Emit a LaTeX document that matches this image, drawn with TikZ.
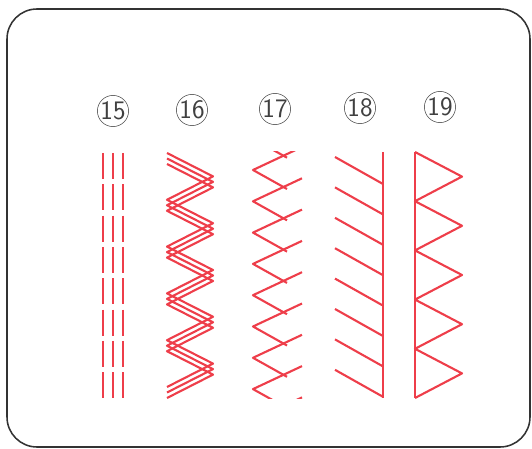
\documentclass[tikz,border=0pt]{standalone}
\usetikzlibrary{calc}
\definecolor{thread}{RGB}{238,62,74}
\tikzset{
    pattern sheet/.style = {x=0.25mm, y=-0.25mm},
    frame/.style         = {draw=black!80, line width=1.1pt, rounded corners=7.5mm},
    stitch/.style        = {draw=thread, line width=1.5pt, line join=round},
    num/.style           = {draw=black!70, circle, thin, minimum size=7.8mm,
                            inner sep=0pt, text=black!75,
                            font=\sffamily\fontsize{19}{19}\selectfont}
}
\begin{document}
\begin{tikzpicture}[pattern sheet]
\useasboundingbox (0,0) rectangle (532,449);

% Card outline
\draw[frame] (7,9) rectangle (530,447);

% Pattern numbers
\node[num] (n15) at (113,111) {15};
\node[num] (n16) at (192,110) {16};
\node[num] (n17) at (275,109) {17};
\node[num] (n18) at (360,108) {18};
\node[num] (n19) at (440,107) {19};

% 15: triple straight stitch
\foreach \x in {103,113,123}
    \foreach \k in {0,...,7}
        \draw[stitch] (\x,{153+31.3*\k}) -- ++(0,26);

% 16: rick-rack, three offset zigzags
\foreach \d in {0,5.5,11}
    \draw[stitch] (167,153+\d)
        \foreach \k in {1,...,10} {
            -- ({ifthenelse(isodd(\k),213,167)},{153+\d+23.4*\k})
        };

% 17: feather stitch
\begin{scope}
    \clip (240,152) rectangle (320,398);
    \foreach \k in {-1,...,8} {
        \pgfmathsetmacro\v{170+31.3*\k}
        \draw[stitch] (302,\v-23) -- (253,\v) -- (287,\v+19);
    }
\end{scope}

% 18: spine with slanted bars
\draw[stitch] (383,152) -- (383,398);
\foreach \k in {0,...,7}
    \draw[stitch] (335,{157+30.4*\k}) -- ++(48,27);

% 19: spine with triangles
\draw[stitch] (415,152) -- (415,398);
\draw[stitch] (415,152)
    \foreach \k in {1,...,10} {
        -- ({ifthenelse(isodd(\k),462,415)},{152+24.6*\k})
    };

\end{tikzpicture}
\end{document}
